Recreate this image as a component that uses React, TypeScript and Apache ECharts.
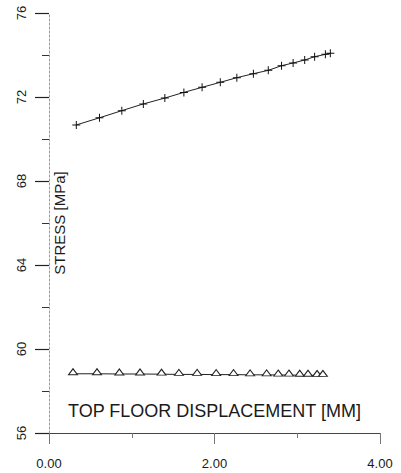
import React, { useEffect, useRef } from "react";
import * as echarts from "echarts";

// Top floor displacement (mm) against stress (MPa) for the two members
const upperDisp = [0.33, 0.61, 0.88, 1.14, 1.4, 1.63, 1.85, 2.07, 2.27, 2.47, 2.65, 2.81, 2.95, 3.09, 3.21, 3.34, 3.4];
const upperStress = [70.67, 71.01, 71.35, 71.67, 71.95, 72.22, 72.46, 72.7, 72.92, 73.11, 73.27, 73.49, 73.62, 73.76, 73.92, 74.03, 74.08];

const lowerDisp = [0.29, 0.58, 0.85, 1.1, 1.36, 1.57, 1.79, 2.02, 2.23, 2.43, 2.63, 2.77, 2.9, 3.03, 3.13, 3.24, 3.31];
const lowerStress = [58.82, 58.82, 58.81, 58.81, 58.8, 58.79, 58.79, 58.78, 58.78, 58.77, 58.77, 58.76, 58.76, 58.75, 58.75, 58.74, 58.74];

const xTitle = "TOP FLOOR DISPLACEMENT [MM]";
const yTitle = "STRESS [MPa]";

const FONT = "'Liberation Sans', Arial, sans-serif";
const INK = "#1a1a1a";

const plusSymbol = "path://M0,3.5h8v1h-8z M3.5,0h1v8h-1z";

export default function App() {
  const ref = useRef<HTMLDivElement>(null);

  useEffect(() => {
    if (!ref.current) return;
    const chart = echarts.init(ref.current, null, { renderer: "svg" });

    const pairs = (xs: number[], ys: number[]) => xs.map((x, i) => [x, ys[i]]);

    chart.setOption({
      animation: false,
      backgroundColor: "#ffffff",
      grid: { left: 49, top: 13, width: 331, height: 420, containLabel: false },
      xAxis: {
        type: "value",
        min: 0,
        max: 4,
        interval: 2,
        name: xTitle,
        nameLocation: "middle",
        nameGap: -31,
        nameMoveOverlap: false,
        nameTextStyle: { fontFamily: FONT, fontSize: 18, color: INK },
        axisLine: { show: true, onZero: false, lineStyle: { color: "#444", width: 1 } },
        axisTick: { show: true, inside: false, length: 11, lineStyle: { color: "#777", width: 1 } },
        minorTick: { show: true, splitNumber: 2, length: 5, lineStyle: { color: "#777", width: 1 } },
        splitLine: { show: false },
        axisLabel: {
          margin: 24,
          fontFamily: FONT,
          fontSize: 13,
          color: INK,
          formatter: (v: number) => v.toFixed(2),
        },
      },
      yAxis: {
        type: "value",
        min: 56,
        max: 76,
        interval: 4,
        name: yTitle,
        nameLocation: "middle",
        nameGap: -18,
        nameRotate: 90,
        nameMoveOverlap: false,
        nameTextStyle: { fontFamily: FONT, fontSize: 15, color: INK },
        axisLine: { show: true, onZero: false, lineStyle: { color: "#999", width: 1, type: [2, 2] } },
        axisTick: { show: true, length: 14, lineStyle: { color: "#222", width: 1.2 } },
        minorTick: { show: true, splitNumber: 2, length: 7, lineStyle: { color: "#333", width: 1 } },
        splitLine: { show: false },
        axisLabel: {
          rotate: 90,
          margin: 21,
          fontFamily: FONT,
          fontSize: 13,
          color: INK,
        },
      },
      series: [
        {
          type: "line",
          data: pairs(upperDisp, upperStress),
          symbol: plusSymbol,
          symbolSize: [8, 8],
          showAllSymbol: true,
          lineStyle: { color: "#222", width: 1 },
          itemStyle: { color: "#111" },
        },
        {
          type: "line",
          data: pairs(lowerDisp, lowerStress),
          symbol: "triangle",
          symbolSize: [9, 6],
          symbolOffset: [0, -2],
          showAllSymbol: true,
          lineStyle: { color: "#222", width: 1 },
          itemStyle: { color: "#ffffff", borderColor: "#222", borderWidth: 1 },
        },
      ],
    });

    return () => chart.dispose();
  }, []);

  return (
    <div
      ref={ref}
      style={{ position: "absolute", left: 0, top: 0, width: 401, height: 473 }}
    />
  );
}
